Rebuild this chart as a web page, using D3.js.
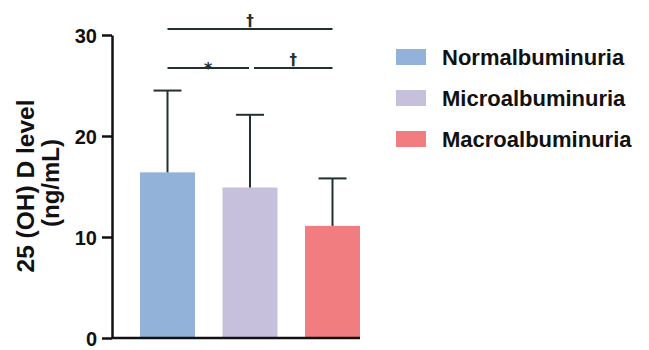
<!DOCTYPE html>
<html>
<head>
<meta charset="utf-8">
<script src="https://cdn.jsdelivr.net/npm/d3@7"></script>
<style>
  body { margin: 0; background: #fff; }
  svg text { font-family: "Liberation Sans", Arial, sans-serif; font-weight: bold; fill: #111; }
</style>
</head>
<body>
<svg id="chart" width="649" height="350"></svg>
<script>
// chart data
const groups = ["Normalbuminuria", "Microalbuminuria", "Macroalbuminuria"];
const means = [16.4, 14.9, 11.1];
const sds = [8.1, 7.2, 4.7];
const colors = ["#93b2d9", "#c7c0dc", "#f17d81"];
const yTicks = [0, 10, 20, 30];
// significance comparisons: [from index, to index, mark, row]
const comparisons = [[0, 2, "\u2020", 0], [0, 1, "*", 1], [1, 2, "\u2020", 1]];

const svg = d3.select("#chart");
const AXIS_X = 112;
const ink = "#22302f";

const y = d3.scaleLinear().domain([0, 30]).range([338, 35]);
const x = d3.scaleBand().domain(groups).range([140, 360]).paddingInner(1 / 3).paddingOuter(0);

// bars
svg.append("g").selectAll("rect")
  .data(groups)
  .join("rect")
  .attr("x", d => x(d))
  .attr("y", (d, i) => y(means[i]))
  .attr("width", x.bandwidth())
  .attr("height", (d, i) => y(0) - y(means[i]))
  .attr("fill", (d, i) => colors[i]);

// error bars (upper only)
const err = svg.append("g").attr("stroke", ink).attr("stroke-width", 2);
groups.forEach((g, i) => {
  let cx = x(g) + x.bandwidth() / 2;
  err.append("line").attr("x1", cx).attr("x2", cx)
    .attr("y1", y(means[i])).attr("y2", y(means[i] + sds[i]));
  err.append("line").attr("x1", cx - 14).attr("x2", cx + 14)
    .attr("y1", y(means[i] + sds[i])).attr("y2", y(means[i] + sds[i]));
});

// y axis
let yAxis = d3.axisLeft(y).tickValues(yTicks).tickSize(10).tickPadding(5).tickSizeOuter(0);
let yg = svg.append("g").attr("transform", `translate(${AXIS_X},0)`).call(yAxis);
yg.select(".domain").attr("stroke", "#111").attr("stroke-width", 2.5);
yg.selectAll(".tick line").attr("stroke", "#111").attr("stroke-width", 2.5);
yg.selectAll(".tick text").style("font-size", "20px").attr("dy", "0.36em");

// x axis line
svg.append("line")
  .attr("x1", AXIS_X).attr("x2", x.range()[1])
  .attr("y1", y(0)).attr("y2", y(0))
  .attr("stroke", "#111").attr("stroke-width", 2.5);

// y label
svg.append("text")
  .attr("transform", "translate(34,186) rotate(-90)")
  .attr("text-anchor", "middle")
  .style("font-size", "24.5px")
  .text("25 (OH) D level");
svg.append("text")
  .attr("transform", "translate(59,183) rotate(-90)")
  .attr("text-anchor", "middle")
  .style("font-size", "24px")
  .text("(ng/mL)");

// significance lines
const rowY = [29, 68];
const sig = svg.append("g");
comparisons.forEach(c => {
  let x1 = x(groups[c[0]]) + x.bandwidth() / 2;
  let x2 = x(groups[c[1]]) + x.bandwidth() / 2;
  // small gap between adjacent brackets on the same row
  if (c[3] === 1) {
    if (c[0] === 1) x1 += 4;
    if (c[1] === 1) x2 -= 1;
  }
  sig.append("line").attr("x1", x1).attr("x2", x2)
    .attr("y1", rowY[c[3]]).attr("y2", rowY[c[3]])
    .attr("stroke", ink).attr("stroke-width", 2);
  sig.append("text")
    .attr("x", (x1 + x2) / 2)
    .attr("y", rowY[c[3]] - (c[2] === "*" ? -6 : 3))
    .attr("text-anchor", "middle")
    .style("font-family", "'DejaVu Sans', sans-serif")
    .style("font-size", c[2] === "*" ? "16px" : "15px")
    .style("fill", ink)
    .text(c[2]);
});

// legend
const legend = svg.append("g").attr("transform", "translate(396,57)");
groups.forEach((g, i) => {
  let row = legend.append("g").attr("transform", `translate(0,${i * 41})`);
  row.append("rect").attr("x", 0).attr("y", -8).attr("width", 30).attr("height", 16)
    .attr("fill", colors[i]);
  row.append("text").attr("x", 46).attr("y", 8)
    .style("font-size", "22px")
    .text(g);
});
</script>
</body>
</html>
